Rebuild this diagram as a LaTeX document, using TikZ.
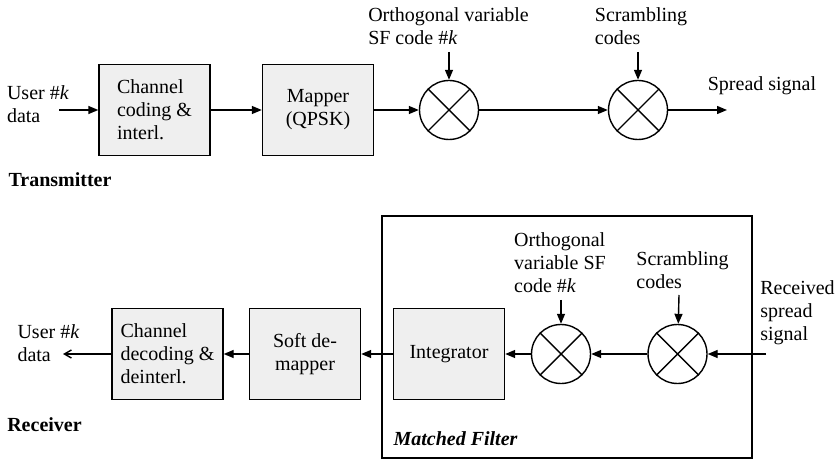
\documentclass[tikz,border=0pt]{standalone}
\usepackage{fontspec}
\setmainfont{Liberation Serif}
\usetikzlibrary{arrows.meta}
\definecolor{boxfill}{RGB}{239,239,239}
\tikzset{
  every node/.style={font=\fontsize{10}{11.5}\selectfont},
  blk/.style={draw, line width=0.7pt, fill=boxfill, minimum width=55.5pt, minimum height=45.5pt, inner sep=0pt},
  mult/.style={draw, line width=0.7pt, circle, minimum size=29.5pt, inner sep=0pt},
  lbl/.style={inner sep=0pt},
  arr/.style={line width=0.7pt, -{Triangle[length=5pt,width=4pt]}},
  openarr/.style={line width=0.7pt, -{Straight Barb[length=3.5pt,width=4pt]}}
}
\newcommand{\crossit}[1]{\draw[line width=0.7pt] (#1.45) -- (#1.225) (#1.135) -- (#1.315);}
\begin{document}
\begin{tikzpicture}[x=0.5pt,y=-0.5pt]
\useasboundingbox (0,0) rectangle (839,459);
% Transmitter
\node[lbl, align=left] (uin) at (38,104) {User \#\textit{k}\\data};
\coordinate (in1) at (59,110);
\node[blk, align=left] (cc) at (154.5,110) {Channel\\coding \&\\interl.};
\node[blk, align=center] (map) at (318,110) {Mapper\\(QPSK)};
\node[mult] (m1) at (449,110) {};
\node[mult] (m2) at (638,110) {};
\crossit{m1}
\crossit{m2}
\coordinate (out1) at (727,110);
\node[lbl, align=left] (l1) at (448.5,26) {Orthogonal variable\\SF code \#\textit{k}};
\node[lbl, align=left] (l2) at (641,26) {Scrambling\\codes};
\coordinate (t1) at (449,52);
\coordinate (t2) at (638,52);
\node[lbl] (spread) at (762,86) {Spread signal};
\node[lbl, font=\fontsize{10}{11.5}\selectfont\bfseries] (tx) at (60,180) {Transmitter};
\draw[arr] (in1) -- (cc);
\draw[arr] (cc) -- (map);
\draw[arr] (map) -- (m1);
\draw[arr] (m1) -- (m2);
\draw[arr] (m2) -- (out1);
\draw[arr] (t1) -- (m1);
\draw[arr] (t2) -- (m2);
% Receiver
\draw[line width=0.7pt] (382,216) rectangle (752,458);
\node[lbl, font=\fontsize{10}{11.5}\selectfont\bfseries\itshape] (mf) at (455.5,439) {Matched Filter};
\node[lbl, align=left] (uout) at (48.5,343.5) {User \#\textit{k}\\data};
\coordinate (out2) at (63,354);
\node[blk, align=left] (cd) at (167.5,354) {Channel\\decoding \&\\deinterl.};
\node[blk, align=center] (sd) at (305,354) {Soft de-\\mapper};
\node[blk] (integ) at (449,354) {Integrator};
\node[mult] (m3) at (561,354) {};
\node[mult] (m4) at (677.5,354) {};
\crossit{m3}
\crossit{m4}
\coordinate (in2) at (766,354);
\node[lbl, align=left] (l3) at (560,262.5) {Orthogonal\\variable SF\\code \#\textit{k}};
\node[lbl, align=left] (l4) at (682.5,270.5) {Scrambling\\codes};
\node[lbl, align=left] (l5) at (797.5,312.5) {Received\\spread\\signal};
\coordinate (t3) at (561,300);
\coordinate (t4) at (679,295);
\node[lbl, font=\fontsize{10}{11.5}\selectfont\bfseries] (rx) at (44.5,425) {Receiver};
\draw[arr] (in2) -- (m4);
\draw[arr] (m4) -- (m3);
\draw[arr] (m3) -- (integ);
\draw[arr] (integ) -- (sd);
\draw[arr] (sd) -- (cd);
\draw[openarr] (cd) -- (out2);
\draw[arr] (t3) -- (m3);
\draw[arr] (t4) -- (m4);
\end{tikzpicture}
\end{document}
